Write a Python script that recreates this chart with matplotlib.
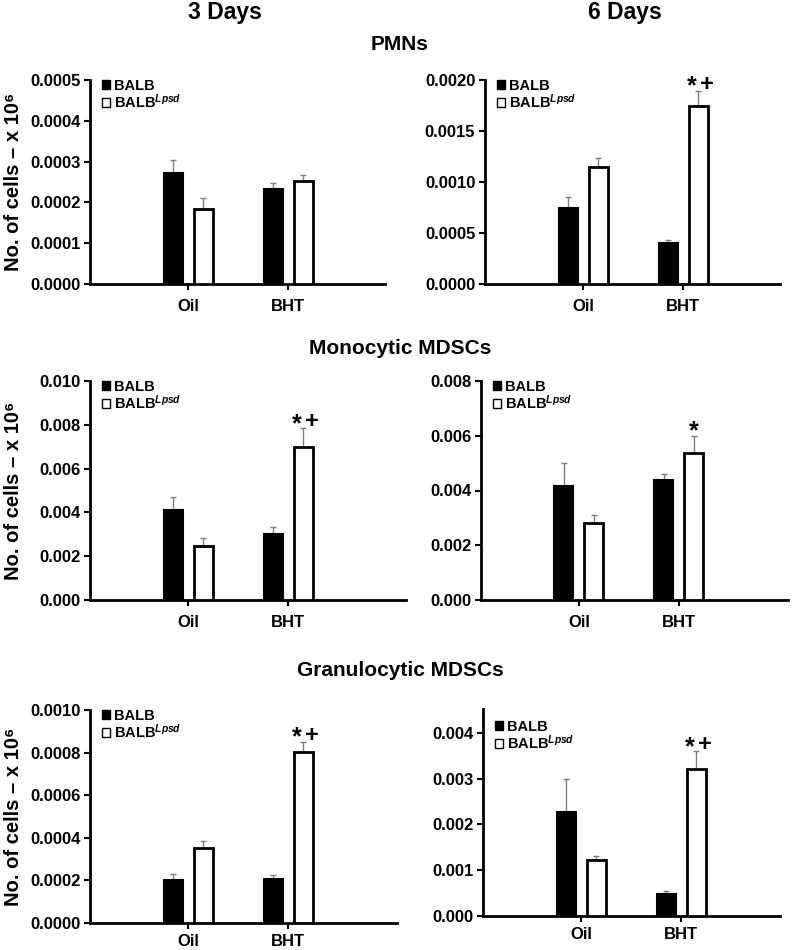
import numpy as np
import matplotlib
matplotlib.use("Agg")
import matplotlib.pyplot as plt
from matplotlib.patches import Patch
from matplotlib.ticker import FormatStrFormatter, MultipleLocator

plt.rcParams["font.family"] = ["Liberation Sans", "DejaVu Sans"]
plt.rcParams["font.weight"] = "bold"
plt.rcParams["mathtext.fontset"] = "custom"
plt.rcParams["mathtext.rm"] = "Liberation Sans:bold"
plt.rcParams["mathtext.bf"] = "Liberation Sans:bold"
plt.rcParams["mathtext.it"] = "Liberation Sans:italic"

# DATA
groups = ["Oil", "BHT"]
series_names = ["BALB", "BALB$^{\\mathit{Lpsd}}$"]

pmn_3d_balb = [0.000271, 0.000234]
pmn_3d_lpsd = [0.000183, 0.000253]
pmn_3d_balb_err = [0.000033, 0.000014]
pmn_3d_lpsd_err = [0.000029, 0.000013]

pmn_6d_balb = [0.000742, 0.000402]
pmn_6d_lpsd = [0.001144, 0.001745]
pmn_6d_balb_err = [0.000108, 0.000029]
pmn_6d_lpsd_err = [0.000088, 0.000150]

mono_3d_balb = [0.00409, 0.00301]
mono_3d_lpsd = [0.00248, 0.00700]
mono_3d_balb_err = [0.00061, 0.00034]
mono_3d_lpsd_err = [0.00034, 0.00084]

mono_6d_balb = [0.00418, 0.00438]
mono_6d_lpsd = [0.00281, 0.00536]
mono_6d_balb_err = [0.00082, 0.00023]
mono_6d_lpsd_err = [0.00028, 0.00062]

gran_3d_balb = [0.000201, 0.000205]
gran_3d_lpsd = [0.000350, 0.000804]
gran_3d_balb_err = [0.000029, 0.000022]
gran_3d_lpsd_err = [0.000036, 0.000047]

gran_6d_balb = [0.00227, 0.00048]
gran_6d_lpsd = [0.00123, 0.00320]
gran_6d_balb_err = [0.00072, 0.00007]
gran_6d_lpsd_err = [0.00009, 0.00040]

# significance marks over the BALB-Lpsd bars
pmn_3d_marks = ["", ""]
pmn_6d_marks = ["", "*+"]
mono_3d_marks = ["", "*+"]
mono_6d_marks = ["", "*"]
gran_3d_marks = ["", "*+"]
gran_6d_marks = ["", "*+"]

# PANEL SETUP: (data..., axes box in px [left, top, right, bottom], ylim top, tick step, decimals, legend drop px)
panels = [
    (pmn_3d_balb, pmn_3d_lpsd, pmn_3d_balb_err, pmn_3d_lpsd_err, pmn_3d_marks,
     [90, 80, 385, 284], 0.0005, 0.0001, 4, 0),
    (pmn_6d_balb, pmn_6d_lpsd, pmn_6d_balb_err, pmn_6d_lpsd_err, pmn_6d_marks,
     [485, 80, 780, 284], 0.0020, 0.0005, 4, 0),
    (mono_3d_balb, mono_3d_lpsd, mono_3d_balb_err, mono_3d_lpsd_err, mono_3d_marks,
     [90, 381, 406, 600], 0.010, 0.002, 3, 0),
    (mono_6d_balb, mono_6d_lpsd, mono_6d_balb_err, mono_6d_lpsd_err, mono_6d_marks,
     [481, 381, 788, 600], 0.008, 0.002, 3, 0),
    (gran_3d_balb, gran_3d_lpsd, gran_3d_balb_err, gran_3d_lpsd_err, gran_3d_marks,
     [90, 710, 397, 923], 0.0010, 0.0002, 4, 0),
    (gran_6d_balb, gran_6d_lpsd, gran_6d_balb_err, gran_6d_lpsd_err, gran_6d_marks,
     [483, 709, 780, 916], 0.00452, 0.001, 3, 12),
]

W, H = 800, 950
fig = plt.figure(figsize=(8, 9.5), dpi=100)

x = np.arange(len(groups))
width = 0.19
offset = 0.15

for i, (balb, lpsd, balb_err, lpsd_err, marks, box, ytop, step, dec, drop) in enumerate(panels):
    left, top, right, bottom = box
    ax = fig.add_axes([left / W, 1 - bottom / H, (right - left) / W, (bottom - top) / H])
    # x-range so that category spacing ~ 100 px
    span = (right - left) / 100.0
    ax.set_xlim(-0.98, -0.98 + span)

    ax.bar(x - offset, balb, width, color="black", edgecolor="black", linewidth=1.5, zorder=3)
    ax.bar(x + offset, lpsd, width, color="white", edgecolor="black", linewidth=2, zorder=3)
    ax.errorbar(x - offset, balb, yerr=[np.zeros(len(balb)), balb_err], fmt="none",
                ecolor="#7f7f7f", elinewidth=1, capsize=2.5, capthick=1, zorder=2)
    ax.errorbar(x + offset, lpsd, yerr=[np.zeros(len(lpsd)), lpsd_err], fmt="none",
                ecolor="#7f7f7f", elinewidth=1, capsize=2.5, capthick=1, zorder=2)

    # significance marks: star sits high in the font, so pull it down a little
    for j, m in enumerate(marks):
        if not m:
            continue
        if m == "*+":
            parts = [("*", -4.3, -2.2, 18), ("+", 6.5, 0, 17)]
        else:
            parts = [("*", 0, -1.5, 18)]
        for ch, dx, dy, fs in parts:
            ax.annotate(ch, (x[j] + offset, lpsd[j] + lpsd_err[j]), xytext=(dx, dy),
                        textcoords="offset points", ha="center", va="baseline",
                        fontsize=fs, fontweight="bold")

    ax.set_ylim(0, ytop)
    ax.yaxis.set_major_locator(MultipleLocator(step))
    ax.yaxis.set_major_formatter(FormatStrFormatter("%." + str(dec) + "f"))
    ax.set_xticks(x)
    ax.set_xticklabels(groups)
    ax.tick_params(axis="both", direction="out", length=4, width=1.5, labelsize=12, pad=3)
    ax.tick_params(axis="x", pad=7 if i < 4 else 4)
    for lab in ax.get_xticklabels() + ax.get_yticklabels():
        lab.set_fontweight("bold")

    ax.spines["top"].set_visible(False)
    ax.spines["right"].set_visible(False)
    ax.spines["left"].set_linewidth(2)
    ax.spines["bottom"].set_linewidth(2)

    handles = [Patch(facecolor="black", edgecolor="black", linewidth=1),
               Patch(facecolor="white", edgecolor="black", linewidth=1)]
    ax_w = right - left
    ax_h = bottom - top
    leg_anchor = (12 / ax_w, 1 - (drop - 1) / ax_h)
    ax.legend(handles, series_names, loc="upper left", bbox_to_anchor=leg_anchor,
              frameon=False, handlelength=0.55, handleheight=0.55,
              handletextpad=0.3, labelspacing=0.0, borderpad=0, borderaxespad=0,
              prop={"weight": "bold", "size": 10.5})

    if i % 2 == 0:
        ax.set_ylabel("No. of cells \u2013 x 10\u2076", fontsize=14.5, fontweight="bold")
        ax.yaxis.set_label_coords(-(left - 23) / ax_w, 0.5)

fig.text(225 / W, 1 - 12 / H, "3 Days", ha="center", va="center", fontsize=16.5, fontweight="bold")
fig.text(625 / W, 1 - 12 / H, "6 Days", ha="center", va="center", fontsize=16.5, fontweight="bold")
fig.text(400 / W, 1 - 44 / H, "PMNs", ha="center", va="center", fontsize=15, fontweight="bold")
fig.text(400 / W, 1 - 349 / H, "Monocytic MDSCs", ha="center", va="center", fontsize=15, fontweight="bold")
fig.text(400 / W, 1 - 671 / H, "Granulocytic MDSCs", ha="center", va="center", fontsize=15, fontweight="bold")

fig.savefig("out.png", dpi=100)
